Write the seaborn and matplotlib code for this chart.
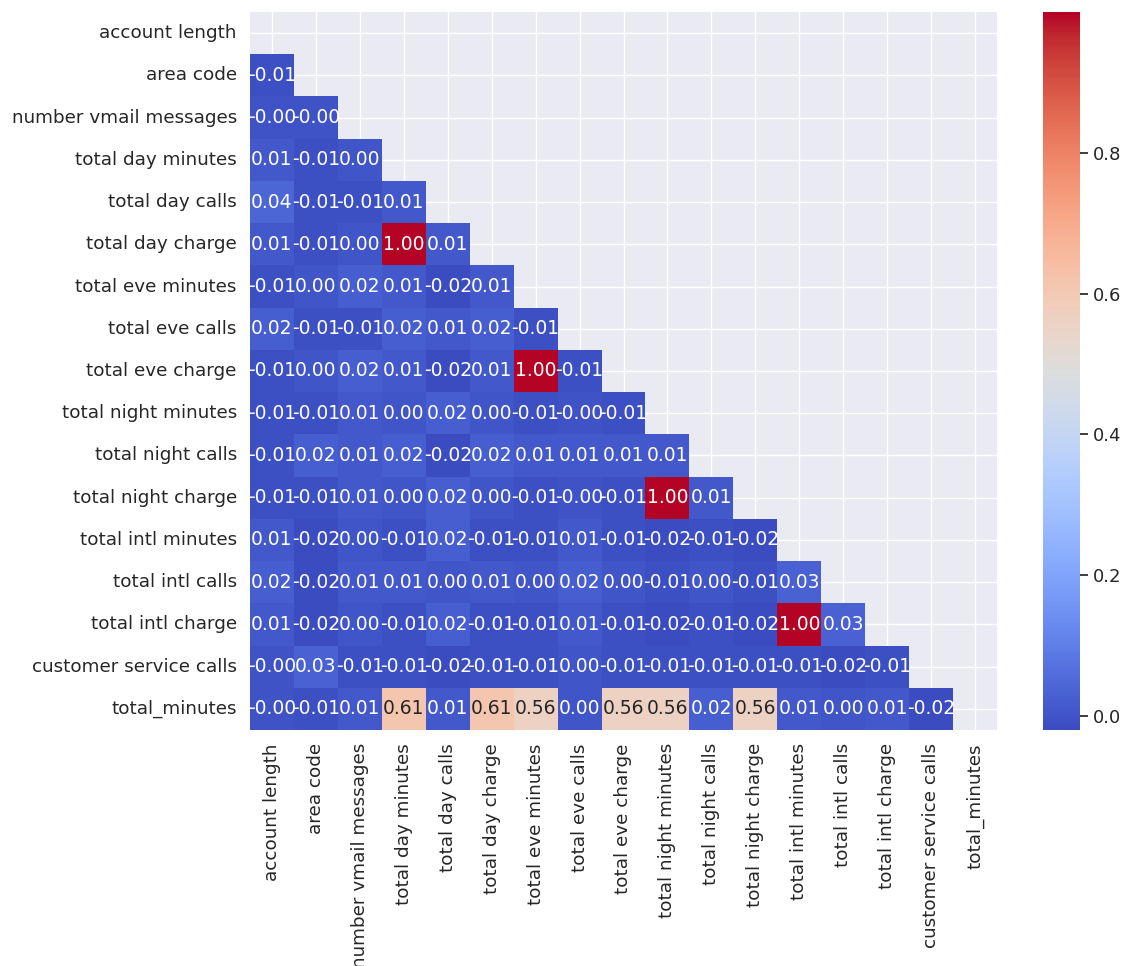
import numpy as np
import pandas as pd
import matplotlib
matplotlib.use("Agg")
import matplotlib.pyplot as plt
import seaborn as sns

sns.set_theme()

features = [
    "account length", "area code", "number vmail messages",
    "total day minutes", "total day calls", "total day charge",
    "total eve minutes", "total eve calls", "total eve charge",
    "total night minutes", "total night calls", "total night charge",
    "total intl minutes", "total intl calls", "total intl charge",
    "customer service calls", "total_minutes",
]

# lower-triangle correlations, one list per row (row i holds columns 0..i-1)
r_area_code = [-0.01]
r_vmail = [-0.004, -0.004]
r_day_min = [0.01, -0.01, 0.00]
r_day_calls = [0.04, -0.01, -0.01, 0.01]
r_day_charge = [0.01, -0.01, 0.00, 1.00, 0.01]
r_eve_min = [-0.01, 0.00, 0.02, 0.01, -0.02, 0.01]
r_eve_calls = [0.02, -0.01, -0.01, 0.02, 0.01, 0.02, -0.01]
r_eve_charge = [-0.01, 0.00, 0.02, 0.01, -0.02, 0.01, 1.00, -0.01]
r_night_min = [-0.01, -0.01, 0.01, 0.00, 0.02, 0.00, -0.01, -0.004, -0.01]
r_night_calls = [-0.01, 0.02, 0.01, 0.02, -0.02, 0.02, 0.01, 0.01, 0.01, 0.01]
r_night_charge = [-0.01, -0.01, 0.01, 0.00, 0.02, 0.00, -0.01, -0.004, -0.01, 1.00, 0.01]
r_intl_min = [0.01, -0.02, 0.00, -0.01, 0.02, -0.01, -0.01, 0.01, -0.01, -0.02, -0.01, -0.02]
r_intl_calls = [0.02, -0.02, 0.01, 0.01, 0.00, 0.01, 0.00, 0.02, 0.00, -0.01, 0.00, -0.01, 0.03]
r_intl_charge = [0.01, -0.02, 0.00, -0.01, 0.02, -0.01, -0.01, 0.01, -0.01, -0.02, -0.01, -0.02, 1.00, 0.03]
r_cust_service = [-0.004, 0.03, -0.01, -0.01, -0.02, -0.01, -0.01, 0.00, -0.01, -0.01, -0.01, -0.01, -0.01, -0.02, -0.01]
r_total_minutes = [-0.004, -0.01, 0.01, 0.61, 0.01, 0.61, 0.56, 0.00, 0.56, 0.56, 0.02, 0.56, 0.01, 0.00, 0.01, -0.02]

lower_rows = [
    [], r_area_code, r_vmail, r_day_min, r_day_calls, r_day_charge,
    r_eve_min, r_eve_calls, r_eve_charge, r_night_min, r_night_calls,
    r_night_charge, r_intl_min, r_intl_calls, r_intl_charge,
    r_cust_service, r_total_minutes,
]

n = len(features)
corr_vals = np.eye(n)
for i, row in enumerate(lower_rows):
    for j, v in enumerate(row):
        corr_vals[i, j] = v
        corr_vals[j, i] = v
corr = pd.DataFrame(corr_vals, index=features, columns=features)

# hide the diagonal and everything above it
mask = np.triu(np.ones_like(corr_vals, dtype=bool))

W, H = 1134, 966
fig = plt.figure(figsize=(W / 100, H / 100), dpi=100)
ax = fig.add_axes([250 / W, 1 - 730 / H, (997 - 250) / W, (730 - 12) / H])
cax = fig.add_axes([1043 / W, 1 - 730 / H, 37 / W, (730 - 12) / H])

sns.heatmap(corr, mask=mask, annot=True, fmt=".2f", cmap="coolwarm",
            ax=ax, cbar_ax=cax, annot_kws={"size": 13.5})
cax.set_yticks([0.0, 0.2, 0.4, 0.6, 0.8])
cax.tick_params(labelsize=13)
ax.tick_params(labelsize=13.2)
ax.set_yticklabels(ax.get_yticklabels(), rotation=0)
ax.set_xticklabels(ax.get_xticklabels(), rotation=90)

fig.savefig("out.png", dpi=100)
